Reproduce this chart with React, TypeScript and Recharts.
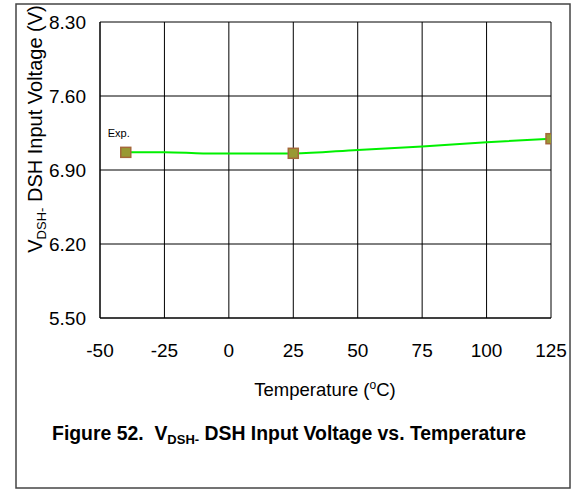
import React from 'react';
import { ComposedChart, Line, Scatter, XAxis, YAxis, CartesianGrid, Label } from 'recharts';

const temperatures = [-40, -25, -10, 0, 25, 50, 75, 100, 125];
const curveVoltage = [7.067, 7.068, 7.057, 7.055, 7.057, 7.09, 7.122, 7.162, 7.196];
const measuredTemps = [-40, 25, 125];
const measuredVoltage = [7.067, 7.058, 7.196];
const measuredNotes = ['Exp.', '', ''];
const xTicks = [-50, -25, 0, 25, 50, 75, 100, 125];
const yTicks = [5.5, 6.2, 6.9, 7.6, 8.3];

const curveData = temperatures.map((t, i) => ({ t, v: curveVoltage[i] }));
const measuredData = measuredTemps.map((t, i) => ({ t, v: measuredVoltage[i], note: measuredNotes[i] }));

const FONT = '"Liberation Sans", Arial, Helvetica, sans-serif';

const Marker = (props: any) => {
  const { cx, cy, payload } = props;
  return (
    <g>
      <rect x={cx - 5} y={cy - 5} width={10} height={10} fill="#999933" stroke="#A5683A" strokeWidth={1.5} />
      {payload && payload.note ? (
        <text x={cx - 7} y={cy - 15} textAnchor="middle" fontSize={11} fontFamily={FONT} fill="#000">
          {payload.note}
        </text>
      ) : null}
    </g>
  );
};

const YTitle = () => (
  <text
    x={42}
    y={129}
    transform="rotate(-90, 42, 129)"
    textAnchor="middle"
    fontSize={20}
    fontFamily={FONT}
    fill="#000"
  >
    V<tspan dy={4} fontSize={13}>DSH-</tspan>
    <tspan dy={-4}>{' DSH Input Voltage (V)'}</tspan>
  </text>
);

const XTitle = () => (
  <text x={325} y={396} textAnchor="middle" fontSize={18.5} fontFamily={FONT} fill="#000">
    {'Temperature ('}
    <tspan dy={-7} fontSize={12}>o</tspan>
    <tspan dy={7}>C)</tspan>
  </text>
);

export default function App() {
  return (
    <div style={{ position: 'absolute', left: 0, top: 0, width: 576, height: 489, background: '#fff' }}>
      <ComposedChart
        width={576}
        height={489}
        margin={{ top: 22, right: 25, bottom: 111, left: 40 }}
        style={{ fontFamily: FONT }}
      >
        <CartesianGrid stroke="#000" strokeWidth={1} horizontalValues={yTicks} verticalValues={xTicks} />
        <XAxis
          dataKey="t"
          type="number"
          domain={[-50, 125]}
          ticks={xTicks}
          allowDataOverflow
          height={60}
          tickLine={false}
          tickSize={0}
          tickMargin={26}
          axisLine={{ stroke: '#000' }}
          tick={{ fill: '#000', fontSize: 19, fontFamily: FONT }}
          interval={0}
        >
          <Label content={() => <XTitle />} />
        </XAxis>
        <YAxis
          dataKey="v"
          type="number"
          domain={[5.5, 8.3]}
          ticks={yTicks}
          allowDataOverflow
          width={60}
          tickLine={false}
          tickSize={0}
          tickMargin={14}
          axisLine={{ stroke: '#000' }}
          tick={{ fill: '#000', fontSize: 19, fontFamily: FONT }}
          tickFormatter={(v: number) => v.toFixed(2)}
          interval={0}
        >
          <Label content={() => <YTitle />} />
        </YAxis>
        <Line
          data={curveData}
          dataKey="v"
          type="monotone"
          stroke="#00F000"
          strokeWidth={2}
          dot={false}
          activeDot={false}
          isAnimationActive={false}
        />
        <Scatter data={measuredData} dataKey="v" shape={Marker} isAnimationActive={false} />
      </ComposedChart>
      <svg
        width={576}
        height={489}
        style={{ position: 'absolute', left: 0, top: 0, pointerEvents: 'none' }}
      >
        <rect x={16} y={4} width={554} height={484} fill="none" stroke="#444" strokeWidth={1.5} />
        <text x={289} y={440} textAnchor="middle" fontSize={19.4} fontWeight="bold" fontFamily={FONT} fill="#000">
          {'Figure 52.\u00a0\u00a0V'}
          <tspan dy={4} fontSize={13}>DSH-</tspan>
          <tspan dy={-4}>{' DSH Input Voltage vs. Temperature'}</tspan>
        </text>
      </svg>
    </div>
  );
}
